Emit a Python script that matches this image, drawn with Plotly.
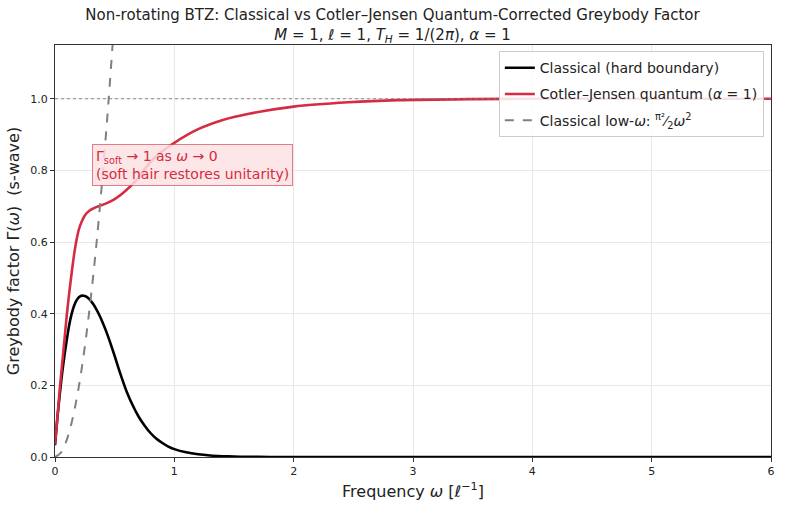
import plotly.graph_objects as go

# ---- data ----
omega_cl = [0, 0.02, 0.04, 0.06, 0.08, 0.1, 0.12, 0.14, 0.16, 0.18, 0.2, 0.22, 0.24, 0.26,
            0.28, 0.3, 0.32, 0.34, 0.37, 0.4, 0.43, 0.46, 0.5, 0.53, 0.56, 0.6, 0.65, 0.7,
            0.75, 0.8, 0.85, 0.9, 0.95, 1.0, 1.1, 1.2, 1.3, 1.4, 1.5, 1.6, 1.8, 2.0, 3.0,
            4.0, 5.0, 6.0]
gamma_cl = [0.033, 0.11, 0.175, 0.235, 0.285, 0.33, 0.37, 0.40, 0.422, 0.437, 0.446, 0.45,
            0.45, 0.448, 0.443, 0.436, 0.427, 0.416, 0.397, 0.375, 0.35, 0.322, 0.282,
            0.25, 0.22, 0.183, 0.145, 0.113, 0.088, 0.067, 0.051, 0.039, 0.029, 0.022,
            0.013, 0.0075, 0.0042, 0.0023, 0.0012, 0.0006, 0.0001, 0.0, 0.0, 0.0, 0.0, 0.0]

omega_q = [0, 0.02, 0.04, 0.06, 0.08, 0.1, 0.12, 0.14, 0.16, 0.18, 0.2, 0.225, 0.25,
           0.29, 0.35, 0.43, 0.5, 0.57, 0.667, 0.75, 0.85, 1.0, 1.2, 1.4, 1.625, 2.0,
           2.46, 2.875, 3.5, 4.0, 5.0, 6.0]
gamma_q = [0.035, 0.11, 0.19, 0.26, 0.33, 0.40, 0.46, 0.515, 0.565, 0.605, 0.635, 0.658,
           0.674, 0.688, 0.698, 0.708, 0.72, 0.737, 0.767, 0.803, 0.84, 0.877, 0.915,
           0.94, 0.958, 0.978, 0.99, 0.996, 0.999, 1.0, 1.0, 1.0]

omega_low = [0, 0.05, 0.1, 0.15, 0.2, 0.25, 0.3, 0.35, 0.4, 0.45, 0.5]
gamma_low = [0, 0.012, 0.049, 0.111, 0.197, 0.308, 0.444, 0.604, 0.79, 1.0, 1.234]

x_ticks = [0, 1, 2, 3, 4, 5, 6]
y_ticks = [0.0, 0.2, 0.4, 0.6, 0.8, 1.0]
unitarity = 1.0

FONT = "DejaVu Sans"
RED = "#d62b40"

fig = go.Figure()
fig.add_trace(go.Scatter(x=omega_cl, y=gamma_cl, mode="lines", name="Classical (hard boundary)",
                         legendgroup="a",
                         line=dict(color="black", width=2.6, shape="spline", smoothing=0.6)))
fig.add_trace(go.Scatter(x=omega_q, y=gamma_q, mode="lines", name="Cotler–Jensen quantum (<i>α</i> = 1)",
                         legendgroup="b",
                         line=dict(color=RED, width=2.6, shape="spline", smoothing=0.8)))
fig.add_trace(go.Scatter(x=omega_low, y=gamma_low, mode="lines", legendgroup="c",
                         name="Classical low-<i>ω</i>: <sup>π²</sup>⁄<sub>2</sub><i>ω</i><sup>2</sup>",
                         line=dict(color="gray", width=2, dash="dash", shape="spline")))

fig.add_hline(y=unitarity, line=dict(color="gray", width=1.2, dash="dot"), opacity=0.9)

fig.add_annotation(x=0.31, y=0.815, xref="x", yref="y", xanchor="left", yanchor="middle",
                   text="Γ<sub>soft</sub> → 1 as <i>ω</i> → 0<br>(soft hair restores unitarity)",
                   showarrow=False, align="left",
                   font=dict(family=FONT, size=14, color=RED),
                   bgcolor="rgba(251,226,228,0.85)", bordercolor="rgba(214,43,64,0.6)",
                   borderwidth=1, borderpad=3)

fig.update_layout(
    width=785, height=527,
    margin=dict(l=55, r=10, t=45, b=70),
    paper_bgcolor="white", plot_bgcolor="white",
    font=dict(family=FONT, size=11, color="#222"),
    title=dict(text="Non-rotating BTZ: Classical vs Cotler–Jensen Quantum-Corrected Greybody Factor<br>"
                    "<i>M</i> = 1, <i>ℓ</i> = 1, <i>T<sub>H</sub></i> = 1/(2<i>π</i>), <i>α</i> = 1",
               x=0.5, xanchor="center", yref="container", y=1 - 20 / 527, yanchor="middle",
               font=dict(family=FONT, size=15, color="#222")),
    legend=dict(x=0.99, y=0.985, xanchor="right", yanchor="top",
                bgcolor="rgba(255,255,255,0.85)", bordercolor="#cccccc", borderwidth=1,
                font=dict(family=FONT, size=14, color="#222"), itemwidth=30,
                tracegroupgap=5),
    showlegend=True,
)
fig.update_xaxes(range=[0, 6], tickvals=x_ticks, ticktext=[str(t) for t in x_ticks],
                 showline=True, linecolor="#333", linewidth=1, mirror=True,
                 ticks="outside", ticklen=4, tickcolor="#333",
                 showgrid=True, gridcolor="#e8e8e8", zeroline=False,
                 title=dict(text="Frequency <i>ω</i> [<i>ℓ</i><sup>−1</sup>]", font=dict(family=FONT, size=16, color="#222"),
                            standoff=8))
fig.update_yaxes(range=[0, 1.15], tickvals=y_ticks, ticktext=[f"{t:.1f}" for t in y_ticks],
                 showline=True, linecolor="#333", linewidth=1, mirror=True,
                 ticks="outside", ticklen=4, tickcolor="#333",
                 showgrid=True, gridcolor="#e8e8e8", zeroline=False,
                 title=dict(text="Greybody factor Γ(<i>ω</i>)  (s-wave)", font=dict(family=FONT, size=16, color="#222"),
                            standoff=6))

fig.write_html("out.html")
